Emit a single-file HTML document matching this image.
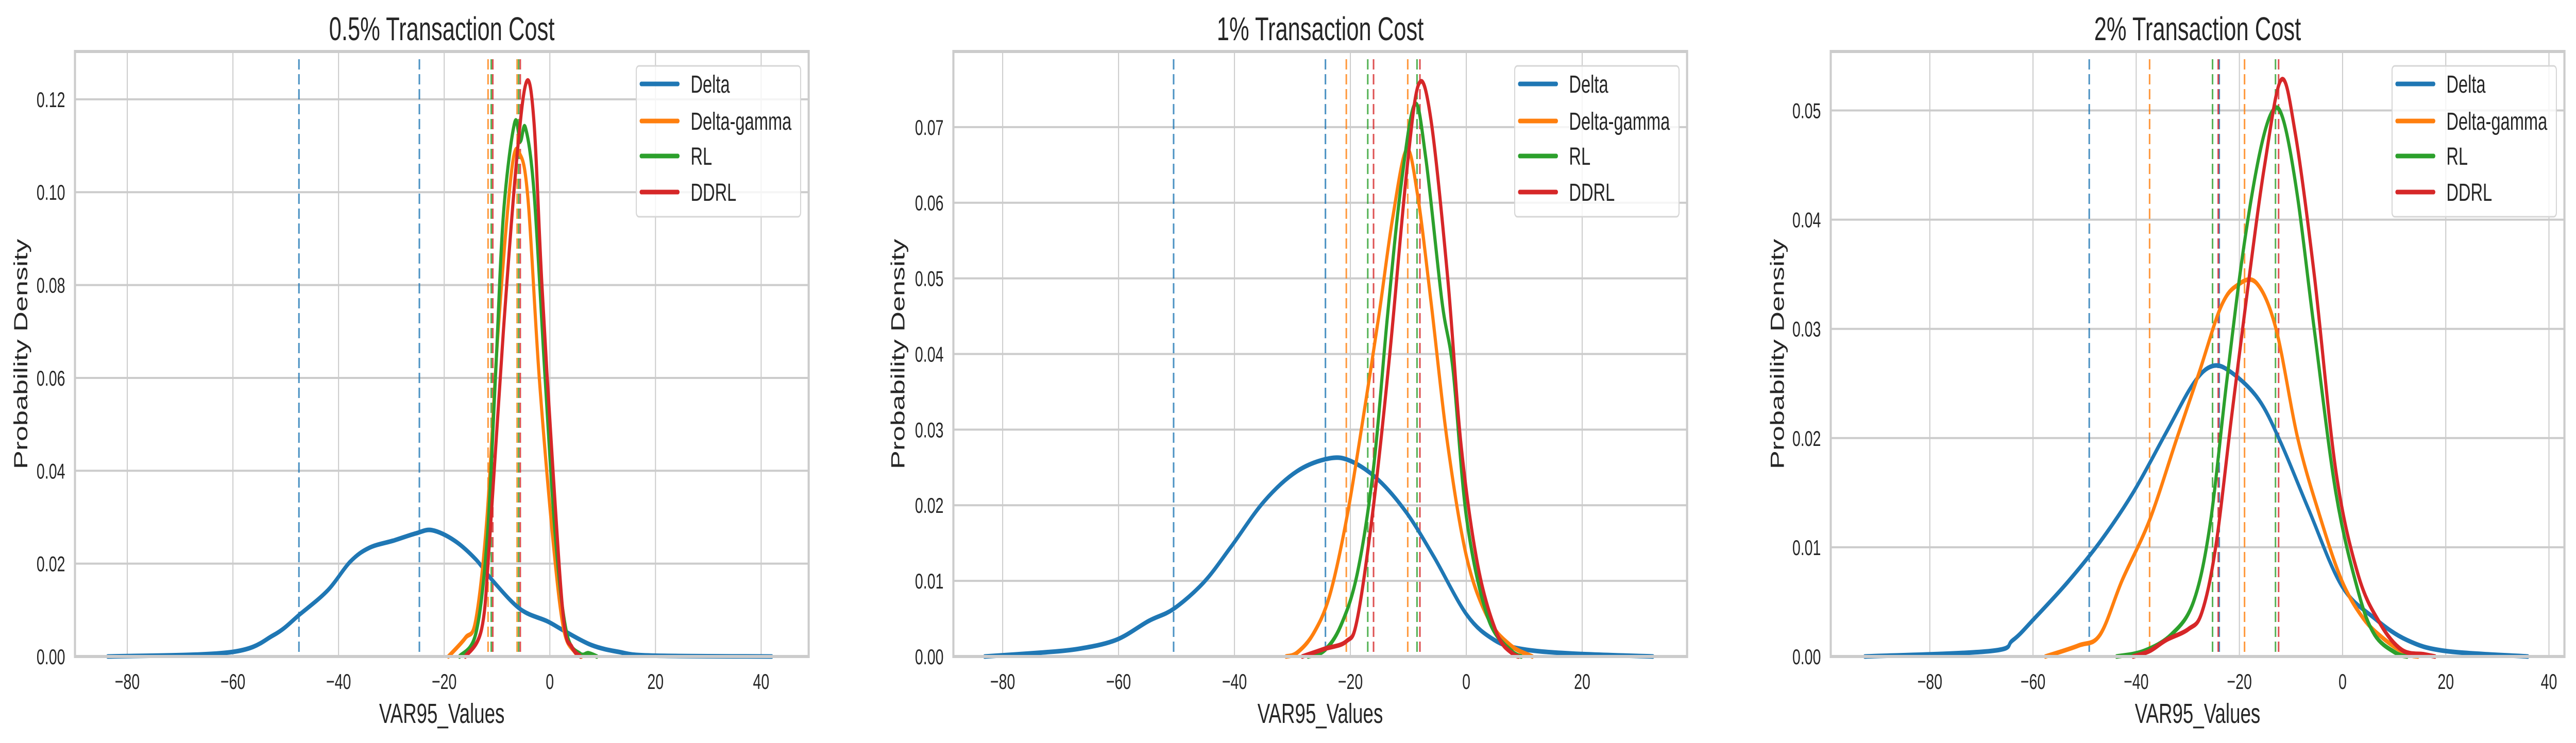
<!DOCTYPE html>
<html><head><meta charset="utf-8">
<style>
html,body{margin:0;padding:0;background:#fff;width:100%;height:100%;overflow:hidden;}
svg{display:block;width:100vw;height:100vh;font-family:"Liberation Sans",sans-serif;}
</style></head>
<body>
<svg id="fig" viewBox="0 0 7352 1443" preserveAspectRatio="none" xmlns="http://www.w3.org/2000/svg"></svg>
<script>
// ---- data ----
const seriesNames = ["Delta","Delta-gamma","RL","DDRL"];
const seriesColors = ["#1f77b4","#ff7f0e","#2ca02c","#d62728"];
const panelTitles = ["0.5% Transaction Cost","1% Transaction Cost","2% Transaction Cost"];
const xTicks1 = [-80,-60,-40,-20,0,20,40];
const xTicks2 = [-80,-60,-40,-20,0,20];
const xTicks3 = [-80,-60,-40,-20,0,20,40];
const yTicks1 = [0,0.02,0.04,0.06,0.08,0.10,0.12];
const yTicks2 = [0,0.01,0.02,0.03,0.04,0.05,0.06,0.07];
const yTicks3 = [0,0.01,0.02,0.03,0.04,0.05];
const yTickLabels1 = ["0.00","0.02","0.04","0.06","0.08","0.10","0.12"];
const yTickLabels2 = ["0.00","0.01","0.02","0.03","0.04","0.05","0.06","0.07"];
const yTickLabels3 = ["0.00","0.01","0.02","0.03","0.04","0.05"];

// Panel 1 (0.5%)
const p1DeltaX = [-83.7,-60.6,-52.3,-47.2,-42,-37.8,-34.2,-29.5,-25.4,-22.3,-18.1,-14,-10.8,-5.6,-0.5,2.6,7.8,13,19.2,42];
const p1DeltaY = [0,0.0009,0.0046,0.0092,0.0143,0.0204,0.0234,0.025,0.0265,0.0272,0.025,0.0209,0.0163,0.0102,0.0076,0.0056,0.0025,0.001,0.0002,0];
const p1DgX = [-19.2,-16,-14,-11.9,-9.8,-7.2,-5.6,-4.1,-2,0.6,2.6,4.7,6];
const p1DgY = [0,0.004,0.008,0.03,0.07,0.105,0.108,0.098,0.06,0.025,0.006,0.001,0];
const p1RlX = [-17.1,-14,-11.9,-10.3,-8.8,-6.7,-5.6,-4.6,-3,-0.9,1.1,3.2,5.8,7.3,8.9];
const p1RlY = [0,0.005,0.025,0.06,0.095,0.1148,0.111,0.1138,0.1,0.06,0.025,0.005,0.0005,0.0007,0];
const p1DdX = [-16,-12.9,-11.4,-8.8,-6.2,-4.4,-3,-1.5,0.6,2.6,4.2,5.8];
const p1DdY = [0,0.006,0.025,0.07,0.108,0.1238,0.115,0.08,0.04,0.008,0.002,0];
const p1VLines = [[-47.5,-24.7],[-11.7,-6.2],[-11.1,-5.9],[-10.8,-5.6]];

// Panel 2 (1%)
const p2DeltaX = [-83.1,-73.7,-67,-60.4,-54.8,-50.5,-45.3,-40.6,-34.9,-29.2,-23.6,-19.8,-15.1,-10.3,-5.6,0.1,4.8,9.5,18,32.2];
const p2DeltaY = [0,0.0005,0.001,0.0022,0.0047,0.0063,0.0098,0.0145,0.0205,0.0245,0.0262,0.0258,0.0233,0.019,0.0132,0.0055,0.0022,0.001,0.0004,0];
const p2DgX = [-31.1,-29.2,-26.4,-23.6,-20.7,-17.9,-15.1,-12.7,-10.3,-8.4,-6.1,-3.2,0.1,3.8,7.6,11.4];
const p2DgY = [0,0.0005,0.003,0.008,0.018,0.031,0.045,0.058,0.067,0.061,0.047,0.028,0.013,0.005,0.0015,0];
const p2RlX = [-27.3,-24.5,-21.7,-18.8,-16,-13.6,-11.3,-8.9,-7,-4.2,-2.3,0.1,3.8,8.1,9.5];
const p2RlY = [0,0.0008,0.004,0.011,0.025,0.045,0.062,0.073,0.066,0.047,0.038,0.018,0.005,0.0005,0];
const p2DdX = [-28.3,-24.5,-20.7,-18.8,-16,-13.2,-10.3,-8.2,-6.1,-3.2,-0.9,2,5.3,8.1,9];
const p2DdY = [0,0.001,0.002,0.005,0.02,0.04,0.064,0.0757,0.071,0.05,0.028,0.012,0.003,0.0003,0];
const p2VLines = [[-50.5,-24.3],[-20.7,-10.1],[-17.0,-8.5],[-16.0,-8.0]];

// Panel 3 (2%)
const p3DeltaX = [-92.6,-68.2,-63.9,-59.7,-53.3,-47,-40.6,-34.2,-28.9,-25.2,-21.5,-16.2,-11.9,-6.6,-0.2,6.2,12.5,20,35.9];
const p3DeltaY = [0,0.0005,0.0015,0.0035,0.0068,0.0105,0.015,0.0205,0.025,0.0266,0.026,0.0235,0.0195,0.0135,0.0065,0.0035,0.0015,0.0005,0];
const p3DgX = [-57.6,-51.2,-47,-42.7,-37.4,-32.1,-27.8,-23.6,-20.4,-16.7,-12.9,-8.7,-4.5,-0.2,4,8.3,12.5,14.6];
const p3DgY = [0,0.001,0.002,0.007,0.0125,0.02,0.026,0.032,0.034,0.0342,0.03,0.02,0.013,0.007,0.0035,0.0015,0.0002,0];
const p3RlX = [-43.8,-38.5,-33.2,-28.9,-25.7,-22.5,-19.3,-16.1,-13.5,-11.4,-8.7,-5.5,-1.3,3,6.2,10.4,12.5];
const p3RlY = [0,0.0005,0.002,0.005,0.012,0.025,0.037,0.046,0.05,0.049,0.042,0.03,0.015,0.006,0.002,0.0003,0];
const p3DdX = [-40.6,-37.4,-34.2,-29.9,-27.3,-24.6,-21.5,-18.3,-15.1,-11.9,-9.2,-5.5,-1.3,3,7.3,11.5,15.8,17.9];
const p3DdY = [0,0.0005,0.0015,0.0025,0.004,0.01,0.022,0.034,0.045,0.0528,0.048,0.035,0.017,0.0075,0.003,0.0006,0.0002,0];
const p3VLines = [[-49.1,-23.9],[-37.4,-19.0],[-25.2,-13.0],[-24.1,-12.4]];

// ---- layout (not data) ----
const panels = [
 {left:214,right:2308,xmin:-89.9,xmax:49,ymax:0.1303,xt:xTicks1,yt:yTicks1,ytl:yTickLabels1,title:panelTitles[0],ylabX:59,
  xs:[p1DeltaX,p1DgX,p1RlX,p1DdX],ys:[p1DeltaY,p1DgY,p1RlY,p1DdY],vl:p1VLines},
 {left:2721,right:4815,xmin:-88.5,xmax:38.1,ymax:0.0800,xt:xTicks2,yt:yTicks2,ytl:yTickLabels2,title:panelTitles[1],ylabX:2562,
  xs:[p2DeltaX,p2DgX,p2RlX,p2DdX],ys:[p2DeltaY,p2DgY,p2RlY,p2DdY],vl:p2VLines},
 {left:5225,right:7319,xmin:-99.2,xmax:43,ymax:0.0554,xt:xTicks3,yt:yTicks3,ytl:yTickLabels3,title:panelTitles[2],ylabX:5072,
  xs:[p3DeltaX,p3DgX,p3RlX,p3DdX],ys:[p3DeltaY,p3DgY,p3RlY,p3DdY],vl:p3VLines}
];
const TOP=100, BOT=1275;
const NS="http://www.w3.org/2000/svg";
const svg=document.getElementById('fig');
function mk(tag,attrs,parent){const e=document.createElementNS(NS,tag);for(const k in attrs)e.setAttribute(k,attrs[k]);(parent||svg).appendChild(e);return e;}
function smoothPath(pts){
  let d="M"+pts[0][0].toFixed(1)+","+pts[0][1].toFixed(1);
  for(let i=0;i<pts.length-1;i++){
    const p0=pts[Math.max(i-1,0)],p1=pts[i],p2=pts[i+1],p3=pts[Math.min(i+2,pts.length-1)];
    const c1x=p1[0]+(p2[0]-p0[0])/6, c1y=Math.min(p1[1]+(p2[1]-p0[1])/6,BOT);
    const c2x=p2[0]-(p3[0]-p1[0])/6, c2y=Math.min(p2[1]-(p3[1]-p1[1])/6,BOT);
    d+=" C"+c1x.toFixed(1)+","+c1y.toFixed(1)+" "+c2x.toFixed(1)+","+c2y.toFixed(1)+" "+p2[0].toFixed(1)+","+p2[1].toFixed(1);
  }
  return d;
}
panels.forEach((p,pi)=>{
  const g=mk('g',{});
  
  
  const sx=v=>p.left+(v-p.xmin)/(p.xmax-p.xmin)*(p.right-p.left);
  const sy=v=>BOT-v/p.ymax*(BOT-TOP);
  p.xt.forEach(t=>{const l=mk('line',{x1:sx(t),x2:sx(t),y1:TOP,y2:BOT,stroke:'#cccccc','stroke-width':3},g);
    
    });
  p.yt.forEach(t=>{const l=mk('line',{x1:p.left,x2:p.right,y1:sy(t),y2:sy(t),stroke:'#cccccc','stroke-width':4},g);
    
    });
  p.vl.forEach((arr,si)=>arr.forEach(v=>{const l=mk('line',{x1:sx(v),x2:sx(v),y1:TOP+15,y2:BOT,stroke:seriesColors[si],'stroke-width':4.5,'stroke-dasharray':'20 9','stroke-opacity':0.8},g);
    
    }));
  p.xs.forEach((xsArr,si)=>{
    const pts=xsArr.map((x,i)=>[sx(x),sy(p.ys[si][i])]);
    const path=mk('path',{d:smoothPath(pts),fill:'none',stroke:seriesColors[si],'stroke-width':9,'stroke-linejoin':'round','stroke-linecap':'round'},g);
    
    
  });
  const sp=mk('rect',{x:p.left,y:TOP,width:p.right-p.left,height:BOT-TOP,fill:'none',stroke:'#cccccc','stroke-width':6},g);
  
  
  p.xt.forEach(t=>{const tx=mk('text',{x:sx(t),y:1338,'font-size':42,'text-anchor':'middle',fill:'#262626'},g);
    tx.textContent=(t<0?'\u2212':'')+Math.abs(t);
    
    });
  p.yt.forEach((t,i)=>{const tx=mk('text',{x:p.left-28,y:sy(t)+15,'font-size':42,'text-anchor':'end',fill:'#262626'},g);
    tx.textContent=p.ytl[i];
    
    });
  const xl=mk('text',{x:(p.left+p.right)/2,y:1404,'font-size':54,'text-anchor':'middle',fill:'#262626'},g);
  xl.textContent='VAR95_Values';
  
  
  const yl=mk('text',{x:0,y:0,'font-size':54,'text-anchor':'middle',fill:'#262626',transform:'translate('+(p.ylabX+19)+','+((TOP+BOT)/2)+') rotate(-90)'},g);
  yl.textContent='Probability Density';
  
  
  const ti=mk('text',{x:(p.left+p.right)/2,y:78,'font-size':64,'text-anchor':'middle',fill:'#262626'},g);
  ti.textContent=p.title;
  
  
  const lg=mk('g',{},g);
  
  
  const lx=p.right-492;
  mk('rect',{x:lx,y:128,width:469,height:293,rx:8,fill:'#ffffff','fill-opacity':0.8,stroke:'#d6d6d6','stroke-width':3},lg);
  seriesNames.forEach((n,si)=>{
    const yy=[163,235,303,373][si];
    const e=mk('g',{},lg);
    
    
    mk('line',{x1:lx+14,x2:lx+119,y1:yy,y2:yy,stroke:seriesColors[si],'stroke-width':9,'stroke-linecap':'round'},e);
    const t=mk('text',{x:lx+155,y:yy+17,'font-size':48,fill:'#262626'},e);
    t.textContent=n;
  });
});
</script>
</body></html>
